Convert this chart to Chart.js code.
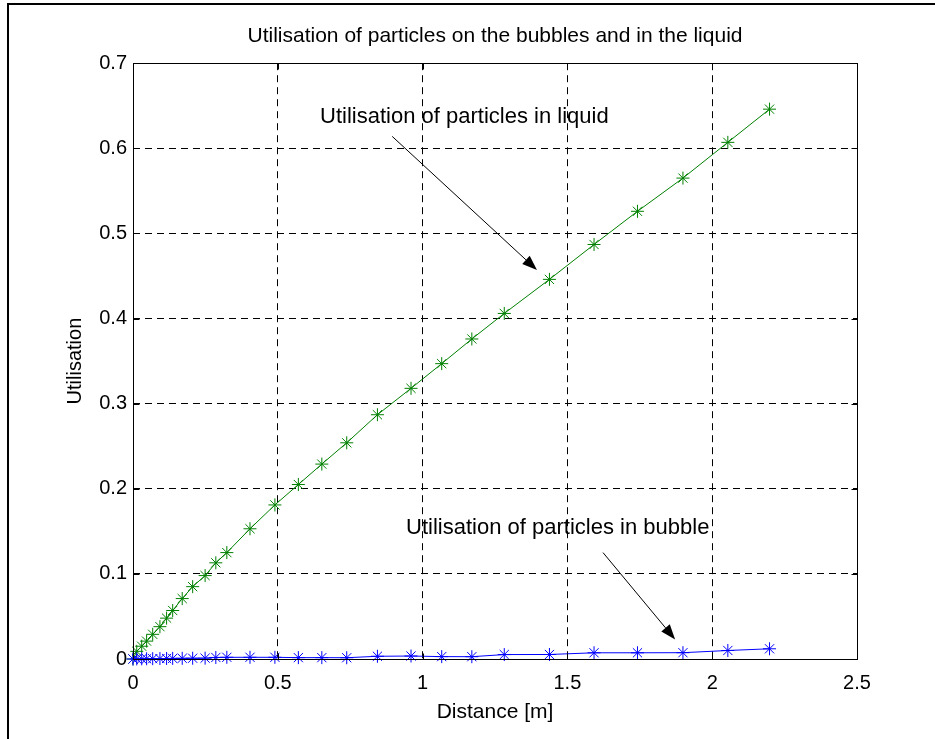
<!DOCTYPE html>
<html>
<head>
<meta charset="utf-8">
<script src="https://cdn.jsdelivr.net/npm/chart.js@4.4.0/dist/chart.umd.min.js"></script>
<style>
html, body { margin: 0; padding: 0; background: #fff; }
#wrap { position: relative; width: 935px; height: 739px; overflow: hidden; }
#frame { position: absolute; left: 7px; top: 3px; right: -5px; bottom: -5px; border-top: 2px solid #000; border-left: 2px solid #000; }
canvas { position: absolute; left: 0; top: 0; }
</style>
</head>
<body>
<div id="wrap">
  <div id="frame"></div>
  <canvas id="grafico" width="935" height="739"></canvas>
</div>
<script>
// distance along the column [m]
const distance = [0, 0.013, 0.030, 0.047, 0.068, 0.093, 0.116, 0.137, 0.170, 0.206,
  0.249, 0.286, 0.324, 0.404, 0.490, 0.571, 0.652, 0.738, 0.844, 0.960,
  1.066, 1.170, 1.282, 1.438, 1.592, 1.742, 1.899, 2.054, 2.198];

// utilisation of particles in the liquid (green)
const liquid = [0, 0.009, 0.015, 0.021, 0.029, 0.038, 0.048, 0.057, 0.071, 0.085,
  0.098, 0.113, 0.125, 0.153, 0.181, 0.205, 0.229, 0.254, 0.287, 0.318,
  0.347, 0.376, 0.406, 0.446, 0.487, 0.526, 0.565, 0.607, 0.646];

// utilisation of particles on the bubbles (blue)
const bubble = [0, 0.0001, 0.0002, 0.0003, 0.0004, 0.0005, 0.0006, 0.0007, 0.0008, 0.0009,
  0.0010, 0.0018, 0.0020, 0.0020, 0.0020, 0.0016, 0.0016, 0.0015, 0.0032, 0.0035,
  0.0028, 0.0027, 0.0052, 0.0053, 0.0073, 0.0073, 0.0074, 0.0100, 0.0120];

const xTicks = [0, 0.5, 1, 1.5, 2, 2.5];
const xTickLabels = ['0', '0.5', '1', '1.5', '2', '2.5'];
const yTicks = [0, 0.1, 0.2, 0.3, 0.4, 0.5, 0.6, 0.7];
const yTickLabels = ['0', '0.1', '0.2', '0.3', '0.4', '0.5', '0.6', '0.7'];

const tituloGrafico = 'Utilisation of particles on the bubbles and in the liquid';
const tituloX = 'Distance [m]';
const tituloY = 'Utilisation';

// notes with arrows, in data units: text anchor, arrow start, arrow tip
const notas = [
  { text: 'Utilisation of particles in liquid', at: [0.646, 0.637], from: [0.895, 0.614], to: [1.395, 0.457] },
  { text: 'Utilisation of particles in bubble', at: [0.943, 0.1535], from: [1.623, 0.125], to: [1.872, 0.023] }
];

const FONT = "'Liberation Sans', Arial, Helvetica, sans-serif";
const verde = 'rgb(0,128,0)';
const azul = 'rgb(0,0,255)';

function puntos(xs, ys) {
  return xs.map((x, i) => ({ x: x, y: ys[i] }));
}

// box round the axes, inward ticks and the arrow notes
const cajaMatlab = {
  id: 'cajaMatlab',
  afterDatasetsDraw(chart) {
    const ctx = chart.ctx;
    const a = chart.chartArea;
    const sx = chart.scales.x;
    const sy = chart.scales.y;
    const L = Math.round(a.left) + 0.5, R = Math.round(a.right) + 0.5;
    const T = Math.round(a.top) + 0.5, B = Math.round(a.bottom) + 0.5;
    ctx.save();
    ctx.strokeStyle = '#000';
    ctx.lineWidth = 1;
    ctx.setLineDash([]);
    ctx.strokeRect(L, T, R - L, B - T);
    ctx.beginPath();
    xTicks.forEach(v => {
      const px = Math.round(sx.getPixelForValue(v)) + 0.5;
      ctx.moveTo(px, B); ctx.lineTo(px, B - 6);
      ctx.moveTo(px, T); ctx.lineTo(px, T + 6);
    });
    yTicks.forEach(v => {
      const py = Math.round(sy.getPixelForValue(v)) + 0.5;
      ctx.moveTo(L, py); ctx.lineTo(L + 6, py);
      ctx.moveTo(R, py); ctx.lineTo(R - 6, py);
    });
    ctx.stroke();

    ctx.fillStyle = '#000';
    ctx.font = '22px ' + FONT;
    ctx.textBaseline = 'middle';
    ctx.textAlign = 'left';
    notas.forEach(n => {
      ctx.fillText(n.text, sx.getPixelForValue(n.at[0]), sy.getPixelForValue(n.at[1]));
      const x1 = sx.getPixelForValue(n.from[0]), y1 = sy.getPixelForValue(n.from[1]);
      const x2 = sx.getPixelForValue(n.to[0]), y2 = sy.getPixelForValue(n.to[1]);
      const ang = Math.atan2(y2 - y1, x2 - x1);
      const len = 15, half = 5.5;
      const bx = x2 - len * Math.cos(ang), by = y2 - len * Math.sin(ang);
      ctx.beginPath();
      ctx.moveTo(x1, y1); ctx.lineTo(bx, by);
      ctx.stroke();
      ctx.beginPath();
      ctx.moveTo(x2, y2);
      ctx.lineTo(bx + half * Math.sin(ang), by - half * Math.cos(ang));
      ctx.lineTo(bx - half * Math.sin(ang), by + half * Math.cos(ang));
      ctx.closePath();
      ctx.fill();
    });
    ctx.restore();
  }
};

const ctx = document.getElementById('grafico');
const myChart = new Chart(ctx, {
  type: 'scatter',
  data: {
    datasets: [
      {
        label: 'bubble',
        data: puntos(distance, bubble),
        showLine: true,
        borderColor: azul,
        backgroundColor: azul,
        borderWidth: 1,
        pointStyle: 'star',
        pointRadius: 6.5,
        pointBorderWidth: 1,
        tension: 0,
        clip: false
      },
      {
        label: 'liquid',
        data: puntos(distance, liquid),
        showLine: true,
        borderColor: verde,
        backgroundColor: verde,
        borderWidth: 1,
        pointStyle: 'star',
        pointRadius: 6.5,
        pointBorderWidth: 1,
        tension: 0,
        clip: false
      }
    ]
  },
  options: {
    responsive: false,
    animation: false,
    events: [],
    layout: { padding: { left: 0, right: 78, top: 0, bottom: 0 } },
    plugins: {
      legend: { display: false },
      tooltip: { enabled: false },
      title: {
        display: true,
        fullSize: false,
        text: tituloGrafico,
        color: '#000',
        font: { family: FONT, size: 21, weight: 'normal' },
        padding: { top: 24, bottom: 14 }
      }
    },
    scales: {
      x: {
        type: 'linear',
        min: 0,
        max: 2.5,
        afterBuildTicks: s => { s.ticks = xTicks.map(v => ({ value: v })); },
        afterFit: s => { s.height = 80; },
        ticks: {
          color: '#000',
          font: { family: FONT, size: 20 },
          padding: 12,
          maxRotation: 0,
          callback: (v) => xTickLabels[xTicks.indexOf(v)]
        },
        grid: { color: '#000', lineWidth: 1, drawTicks: false },
        border: { display: false, dash: [7, 5] },
        title: {
          display: true,
          text: tituloX,
          color: '#000',
          font: { family: FONT, size: 21 },
          padding: { top: 0, bottom: 14 }
        }
      },
      y: {
        type: 'linear',
        min: 0,
        max: 0.7,
        afterBuildTicks: s => { s.ticks = yTicks.map(v => ({ value: v })); },
        afterFit: s => { s.width = 133; },
        ticks: {
          color: '#000',
          font: { family: FONT, size: 20 },
          padding: 6,
          callback: (v) => yTickLabels[yTicks.indexOf(v)]
        },
        grid: { color: '#000', lineWidth: 1, drawTicks: false },
        border: { display: false, dash: [7, 5] },
        title: {
          display: true,
          text: tituloY,
          color: '#000',
          font: { family: FONT, size: 20 },
          padding: { top: 63, bottom: 0 }
        }
      }
    }
  },
  plugins: [cajaMatlab]
});
</script>
</body>
</html>
